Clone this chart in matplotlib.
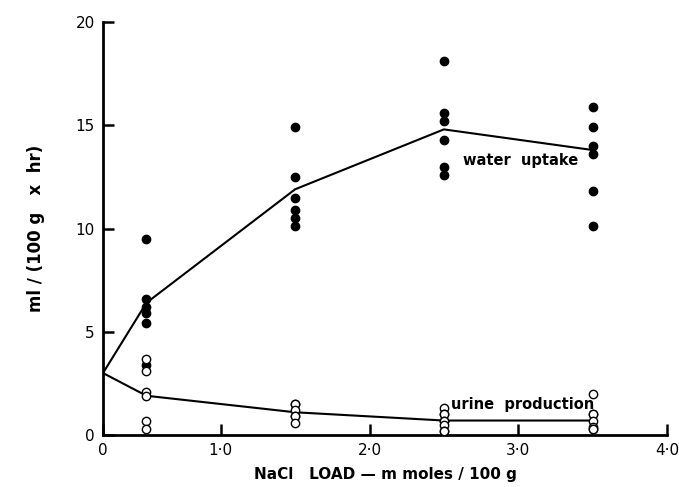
import numpy as np
import matplotlib
matplotlib.use("Agg")
import matplotlib.pyplot as plt

# NaCl load (mmoles/100 g)
load = [0.5, 1.5, 2.5, 3.5]

# individual water uptake values, ml/(100 g x hr)
water_05 = [9.5, 6.6, 6.2, 5.9, 5.4, 3.4]
water_15 = [14.9, 12.5, 11.5, 10.9, 10.5, 10.1]
water_25 = [18.1, 15.6, 15.2, 14.3, 13.0, 12.6]
water_35 = [15.9, 14.9, 14.0, 13.6, 11.8, 10.1]

# individual urine production values
urine_05 = [3.7, 3.1, 2.1, 1.9, 0.7, 0.3]
urine_15 = [1.5, 1.5, 1.2, 0.9, 0.9, 0.6]
urine_25 = [1.3, 1.0, 1.0, 0.7, 0.7, 0.5, 0.2, 0.2]
urine_35 = [2.0, 1.0, 1.0, 0.7, 0.4, 0.3, 0.3]

# mean lines (start from the value at zero load)
line_x = [0, 0.5, 1.5, 2.5, 3.5]
water_mean = [3.0, 6.4, 11.9, 14.8, 13.8]
urine_mean = [3.0, 1.9, 1.1, 0.7, 0.7]

xtick_vals = [0, 1, 2, 3, 4]
xtick_labels = ["0", "1\u00b70", "2\u00b70", "3\u00b70", "4\u00b70"]
ytick_vals = [0, 5, 10, 15, 20]


# the original axis is compressed between 0 and 0.5
def fwd(x):
    x = np.asarray(x, dtype=float)
    return np.where(x < 0.5, x * 0.584, x - 0.208)


def inv(y):
    y = np.asarray(y, dtype=float)
    return np.where(y < 0.292, y / 0.584, y + 0.208)


fig = plt.figure(figsize=(6.79, 4.87), dpi=100)
ax = fig.add_axes([0.1517, 0.1068, 0.8306, 0.848])
ax.set_xscale("function", functions=(fwd, inv))

ax.plot(line_x, water_mean, color="black", lw=1.5, zorder=2)
ax.plot(line_x, urine_mean, color="black", lw=1.5, zorder=2)

water = [water_05, water_15, water_25, water_35]
urine = [urine_05, urine_15, urine_25, urine_35]
for xv, ws, us in zip(load, water, urine):
    ax.plot([xv] * len(ws), ws, "o", ms=6, color="black", zorder=3)
    ax.plot([xv] * len(us), us, "o", ms=6, mfc="white", mec="black",
            mew=1, zorder=3)

ax.text(2.63, 13.3, "water  uptake", fontsize=10.5, fontweight="bold",
        va="center", ha="left")
ax.text(2.55, 1.5, "urine  production", fontsize=10.5, fontweight="bold",
        va="center", ha="left")

ax.set_xlim(0, 4)
ax.set_ylim(0, 20)
ax.set_xticks(xtick_vals)
ax.set_xticklabels(xtick_labels)
ax.set_yticks(ytick_vals)
ax.minorticks_off()
ax.tick_params(direction="in", length=8, width=1.8, labelsize=11, pad=6)

for s in ["top", "right"]:
    ax.spines[s].set_visible(False)
for s in ["left", "bottom"]:
    ax.spines[s].set_linewidth(2)

ax.set_xlabel("NaCl   LOAD \u2014 m moles / 100 g", fontsize=11,
              fontweight="bold", labelpad=6)
ax.set_ylabel("ml / (100 g   x  hr)", fontsize=12, fontweight="bold",
              labelpad=22)

fig.savefig("out.png", dpi=100)
